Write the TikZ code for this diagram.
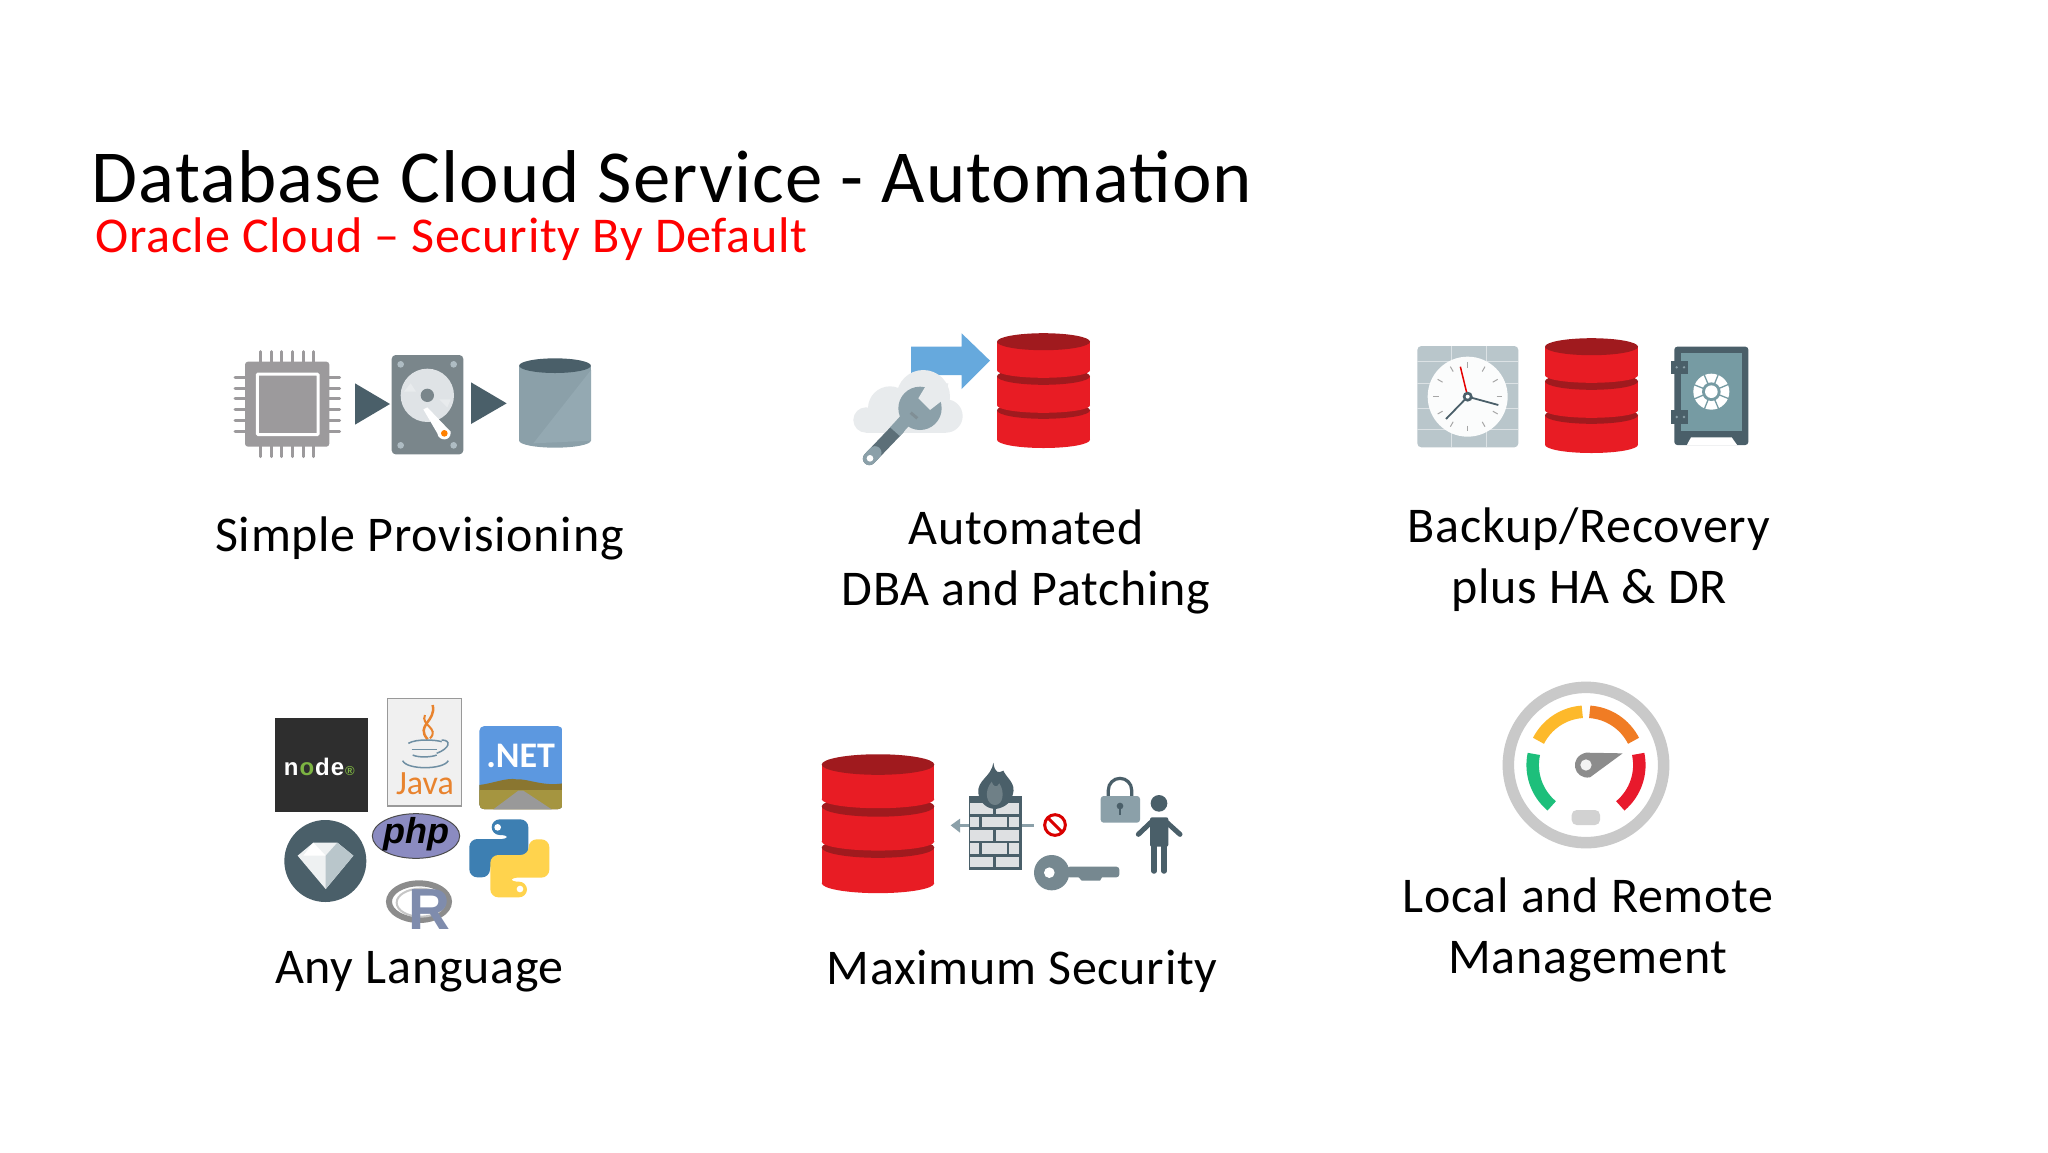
\documentclass[tikz,border=0pt]{standalone}
\usepackage{fontspec}
\setmainfont[LetterSpace=1.5]{Carlito}
\newfontfamily\logofont{Liberation Sans}
\newfontfamily\netfont{Carlito}
\usetikzlibrary{positioning}

\definecolor{slatedark}{HTML}{4A5F69}
\definecolor{slatemid}{HTML}{8BA0A9}
\definecolor{slatelight}{HTML}{94A9B2}
\definecolor{chipgray}{HTML}{9C9A9C}
\definecolor{diskgray}{HTML}{7A868B}
\definecolor{dbred}{HTML}{E81C24}
\definecolor{dbdark}{HTML}{A01A1E}
\definecolor{arrowblue}{HTML}{66A9DD}
\definecolor{cloudgray}{HTML}{E8EBED}
\definecolor{javaorange}{HTML}{E8832E}
\definecolor{javablue}{HTML}{6F8FA3}
\definecolor{titlered}{HTML}{FF0000}
\definecolor{pyblue}{HTML}{3D7FB2}
\definecolor{pyyellow}{HTML}{FFD34D}
\definecolor{rblue}{HTML}{7F8CAD}
\definecolor{hillbrown}{HTML}{8A7630}
\definecolor{groundbrown}{HTML}{A59540}
\definecolor{nodegreen}{HTML}{7CB342}
\definecolor{gaugegreen}{HTML}{1DBF7B}
\definecolor{gaugeyellow}{HTML}{FDB92B}
\definecolor{gaugeorange}{HTML}{F07C24}
\definecolor{gaugered}{HTML}{E8192C}

\tikzset{
	title/.style={anchor=west, inner sep=0pt, font=\fontsize{74.8}{76}\selectfont},
	subtitle/.style={anchor=west, inner sep=0pt, text=titlered, font=\fontsize{50.1}{52}\selectfont},
	caption/.style={align=center, inner sep=0pt, font=\fontsize{50}{60.4}\selectfont},
	pin/.style={chipgray, line width=3pt, line cap=round},
	tick/.style={gray!70, line width=1pt},
	brick/.style={fill=cloudgray!90!gray},
	pics/dbstack/.style={code={
		\foreach \a/\b/\c in {77.3/106.7/8.3, 43.3/72.3/7.5, 8.7/37.3/7.5} {
			\fill [dbred] (-46.5,\a) rectangle (46.5,\b);
			\fill [dbred] (0,\b) ellipse [x radius=46.5, y radius=\c];
			\fill [dbdark] (0,\a) ellipse [x radius=46.5, y radius=8.5];
		}
	}}
}

\begin{document}
\begin{tikzpicture}[x=1pt,y=-1pt]
	\useasboundingbox [fill=white] (0,0) rectangle (2048,1152);

	\node (head) [title] at (91.5,176.5) {Database Cloud Service - Automation};
	\node (sub) [subtitle] at (95,239) {Oracle Cloud – Security By Default};

	\node (simple) [caption] at (419.5,538) {Simple Provisioning};
	\node (dba) [caption] at (1026,562) {Automated\\DBA and Patching};
	\node (backup) [caption] at (1589,559.5) {Backup/Recovery\\plus HA \& DR};
	\node (lang) [caption] at (419.5,972) {Any Language};
	\node (secure) [caption] at (1022,971) {Maximum Security};
	\node (manage) [caption] at (1588,930) {Local and Remote\\Management};

	% chip, disk, cylinder
	\begin{scope}[shift={(200,320)},scale=1/3]
		\foreach \p in {181,213,245,277,309,341} {
			\draw [pin] (\p,95) -- (\p,410);
		}
		\foreach \p in {172,204,236,268,300,333} {
			\draw [pin] (105,\p) -- (419,\p);
		}
		\fill [chipgray, rounded corners=3pt] (135,125) rectangle (388,380);
		\draw [white, line width=3pt, rounded corners=1pt] (172,162) rectangle (354,344);
		\fill [slatedark] (465,190) -- (570,252) -- (465,314) -- cycle;
		\fill [slatedark] (813,187) -- (920,250) -- (813,312) -- cycle;
		\fill [diskgray, rounded corners=4pt] (575,105) rectangle (790,403);
		\foreach \x/\y in {602/133,761/133,602/376,761/376} {
			\fill [slatemid!70!white] (\x,\y) circle (10);
		}
		\fill [cloudgray!90!slatemid] (682,226) circle (80);
		\fill [cloudgray] (612,215) -- (632,190) -- (648,215) -- cycle;
		\fill [cloudgray] (718,238) -- (752,238) -- (742,262) -- cycle;
		\fill [diskgray] (682,226) circle (20);
		\fill [white] (670,268) -- (682,262) -- (752,335) .. controls (755,365) and (715,365) .. (712,340) -- cycle;
		\fill [orange] (733,340) circle (10);
		\fill [slatemid] (958,137) rectangle (1173,362);
		\fill [slatemid] (1065,362) ellipse [x radius=107.5, y radius=21];
		\fill [slatelight] (1173,150) -- (1173,362) -- (1000,370) -- cycle;
		\fill [slatedark] (1065,137) ellipse [x radius=107.5, y radius=22];
	\end{scope}

	% cloud, wrench, arrow
	\begin{scope}[shift={(840,320)},scale=1/3]
		\fill [arrowblue] (213,80) -- (365,80) -- (365,40) -- (450,122) -- (365,207) -- (365,165) -- (213,165) -- cycle;
		\fill [cloudgray] (250,230) circle (80);
		\fill [cloudgray] (150,265) circle (66);
		\fill [cloudgray] (78,300) circle (38);
		\fill [cloudgray] (318,288) circle (50);
		\fill [cloudgray] (78,280) rectangle (318,338);
		\draw [slatedark!90!white, line width=13pt, line cap=round] (88,416) -- (175,325);
		\draw [slatemid, line width=13pt, line cap=round] (88,416) -- (105,398);
		\draw [slatemid, line width=13pt] (165,335) -- (210,285);
		\fill [slatemid] (240,265) circle (65);
		\fill [cloudgray] (262,190) -- (235,235) -- (270,270) -- (315,235) -- (325,190) -- cycle;
		\fill [white] (90,415) circle (10);
		\draw [slatedark!70!white, line width=3pt] (212,278) -- (232,295);
	\end{scope}
	\pic at (1043.5,333) {dbstack};

	% clock, safe
	\begin{scope}[shift={(1400,320)},scale=1/3]
		\fill [slatemid!60!white, rounded corners=4pt] (52,78) rectangle (355,382);
		\foreach \x in {153,260} {
			\draw [white!70!slatemid, line width=1pt] (\x,78) -- (\x,382);
		}
		\foreach \y in {125,190,265,328} {
			\draw [white!70!slatemid, line width=1pt] (52,\y) -- (355,\y);
		}
		\fill [white!97!slatemid] (203,230) circle (120);
		\foreach \a in {0,30,...,330} {
			\draw [tick] (203,230) ++(\a:87) -- ++(\a:17);
		}
		\draw [red!90!black, line width=1.5pt] (203,230) -- (181,140);
		\draw [slatedark, line width=1.8pt] (203,230) -- (295,255);
		\draw [slatedark, line width=1.8pt] (203,230) -- (138,297);
		\fill [slatedark] (203,230) circle (15);
		\fill [white] (203,230) circle (6);

		\fill [slatedark, rounded corners=3pt] (823,375) -- (823,80) -- (1045,80) -- (1045,375) -- cycle;
		\fill [white] (860,376) -- (873,352) -- (995,352) -- (1012,376) -- cycle;
		\fill [slatemid!85!teal] (843,98) rectangle (1025,332);
		\fill [slatedark] (813,122) rectangle (865,162);
		\fill [slatedark] (813,270) rectangle (865,312);
		\foreach \x/\y in {830/142,852/142,830/291,852/291} {
			\fill [slatemid] (\x,\y) circle (4);
		}
		\fill [white] (934,215) circle (54);
		\foreach \a in {0,45,...,315} {
			\draw [slatemid!85!teal, line width=1.3pt] (934,215) -- ++(\a+22:56);
		}
		\fill [slatemid!85!teal] (934,215) circle (28);
		\fill [white] (934,215) circle (19);
	\end{scope}
	\pic at (1591.5,338) {dbstack};

	% language logos
	\begin{scope}[shift={(260,690)},scale=1/3]
		\fill [black!82] (45,85) rectangle (323,365);
		\node (nodejs) at (178,232) {\logofont\bfseries\fontsize{24}{24}\selectfont\color{white}n\kern1pt\color{nodegreen}o\kern1pt\color{white}d\kern1pt e\kern1pt\color{nodegreen}\fontsize{13}{13}\selectfont\textregistered};

		\draw [gray!80, fill=gray!12, line width=1.2pt] (383,25) rectangle (605,348);
		\draw [javaorange, line width=2.5pt] (503,148) .. controls (465,105) and (530,95) .. (518,45);
		\draw [javaorange, line width=2pt] (510,145) .. controls (540,115) and (480,105) .. (495,75);
		\draw [javablue, line width=1.5pt] (445,160) .. controls (470,145) and (530,150) .. (545,155);
		\draw [javablue, line width=1.5pt] (455,178) -- (530,178);
		\draw [javablue, line width=1.5pt] (458,195) .. controls (480,205) and (520,200) .. (530,195);
		\draw [javablue, line width=1.5pt] (545,150) .. controls (575,150) and (570,175) .. (530,190);
		\draw [javablue, line width=1.5pt] (428,212) .. controls (440,240) and (550,240) .. (565,212);
		\node (java) [text=javaorange, font=\netfont\fontsize{34}{34}\selectfont] at (495,280) {Java};

		\begin{scope}
			\clip [rounded corners=5pt] (658,108) rectangle (908,358);
			\fill [arrowblue!90!blue] (658,108) rectangle (908,358);
			\fill [hillbrown] (658,285) .. controls (700,280) and (740,262) .. (770,268) .. controls (800,265) and (850,290) .. (908,280) -- (908,358) -- (658,358) -- cycle;
			\fill [groundbrown] (658,300) rectangle (908,358);
			\fill [gray!80] (700,358) -- (775,302) -- (790,302) -- (875,358) -- cycle;
		\end{scope}
		\node (dotnet) [text=white, font=\netfont\bfseries\fontsize{36}{36}\selectfont] at (782,197) {.NET};

		\fill [slatedark] (196,513) circle (123);
		\fill [white!85!slatemid] (113,497) -- (160,458) -- (232,458) -- (280,497) -- (197,597) -- cycle;
		\fill [white] (130,497) -- (160,458) -- (197,497) -- cycle;
		\fill [slatemid!60!white] (197,497) -- (232,458) -- (280,497) -- (197,597) -- cycle;

		\draw [black!70, fill=blue!30!gray!70, line width=1pt] (468,438) ellipse [x radius=131, y radius=67];
		\node (php) [font=\logofont\bfseries\itshape\fontsize{36}{36}\selectfont] at (468,432) {php};

		\fill [pyblue, rounded corners=8pt] (695,388) -- (805,388) -- (805,515) -- (690,515) -- (690,562) -- (628,562) -- (628,447) -- (750,447) -- (750,435) -- (695,435) -- cycle;
		\fill [pyyellow, rounded corners=8pt] (801,622) -- (691,622) -- (691,495) -- (806,495) -- (806,448) -- (868,448) -- (868,563) -- (746,563) -- (746,575) -- (801,575) -- cycle;
		\fill [white] (713,412) circle (10);
		\fill [white] (780,597) circle (10);

		\draw [gray!90, line width=6pt] (477,635) ellipse [x radius=90, y radius=55];
		\draw [gray!45, line width=2pt] (482,638) ellipse [x radius=72, y radius=42];
		\node (rlang) [text=rblue, font=\logofont\bfseries\fontsize{58}{58}\selectfont] at (507,660) {R};
	\end{scope}

	% firewall, key, lock, person
	\pic [scale=1.21] at (878,754) {dbstack};
	\begin{scope}[shift={(810,740)},scale=1/3]
		\draw [slatemid, line width=3pt] (445,256) -- (672,256);
		\fill [slatemid] (422,256) -- (450,236) -- (450,278) -- cycle;
		\fill [slatedark] (478,168) rectangle (635,390);
		\foreach \y in {190,270,350} {
			\fill [brick] (480,\y) rectangle (550,\y+32);
			\fill [brick] (557,\y) rectangle (628,\y+32);
		}
		\foreach \y in {230,310} {
			\fill [brick] (480,\y) rectangle (508,\y+32);
			\fill [brick] (516,\y) rectangle (590,\y+32);
			\fill [brick] (598,\y) rectangle (628,\y+32);
		}
		\fill [slatedark] (550,68) .. controls (555,100) and (565,100) .. (580,92) .. controls (590,115) and (620,130) .. (608,165) .. controls (600,195) and (575,205) .. (555,207) .. controls (530,205) and (510,190) .. (505,160) .. controls (500,120) and (545,110) .. (550,68) -- cycle;
		\fill [slatemid!80!black] (545,125) .. controls (550,140) and (560,145) .. (568,130) .. controls (585,155) and (580,195) .. (555,195) .. controls (530,195) and (520,155) .. (545,125) -- cycle;
		\draw [red!85!black, line width=3pt] (735,255) circle (31);
		\draw [red!85!black, line width=3pt] (713,233) -- (757,277);

		\draw [slatedark, line width=3.2pt] (895,175) -- (895,150) arc [start angle=180, end angle=360, radius=35] -- (965,175);
		\fill [slatemid, rounded corners=3pt] (872,168) rectangle (990,248);
		\fill [slatedark] (930,198) circle (10);
		\fill [slatedark] (926,198) rectangle (934,225);

		\fill [slatedark] (1047,190) circle (25);
		\fill [slatedark, rounded corners=2pt] (1020,232) rectangle (1075,320);
		\draw [slatedark, line width=5pt, line cap=round] (1025,245) -- (985,283);
		\draw [slatedark, line width=5pt, line cap=round] (1068,245) -- (1110,283);
		\draw [slatedark, line width=5.5pt, line cap=round] (1032,310) -- (1032,393);
		\draw [slatedark, line width=5.5pt, line cap=round] (1062,310) -- (1062,393);

		\fill [slatemid!85!black] (725,398) circle (53);
		\fill [slatemid!85!black, rounded corners=3pt] (770,380) rectangle (928,412);
		\fill [slatemid!85!black] (800,405) -- (880,405) -- (870,422) -- (815,422) -- cycle;
		\fill [white] (718,398) circle (16);
	\end{scope}

	% gauge
	\begin{scope}[shift={(1490,670)},scale=1/3]
		\draw [gray!42, line width=11.5pt] (288,285) circle (233);
		\foreach \s/\e/\col in {168/230/gaugegreen, 153/94/gaugeyellow, 86/27/gaugeorange, 12/-50/gaugered} {
			\draw [\col, line width=12.5pt] (288,285) ++(-\s:160) arc [start angle=-\s, end angle=-\e, radius=160];
		}
		\fill [gray!90] (288,248) -- (398,250) -- (300,322) .. controls (250,330) and (235,260) .. (288,248) -- cycle;
		\fill [white!90!gray] (288,285) circle (17);
		\fill [gray!35, rounded corners=5pt] (245,420) rectangle (330,465);
	\end{scope}
\end{tikzpicture}
\end{document}
